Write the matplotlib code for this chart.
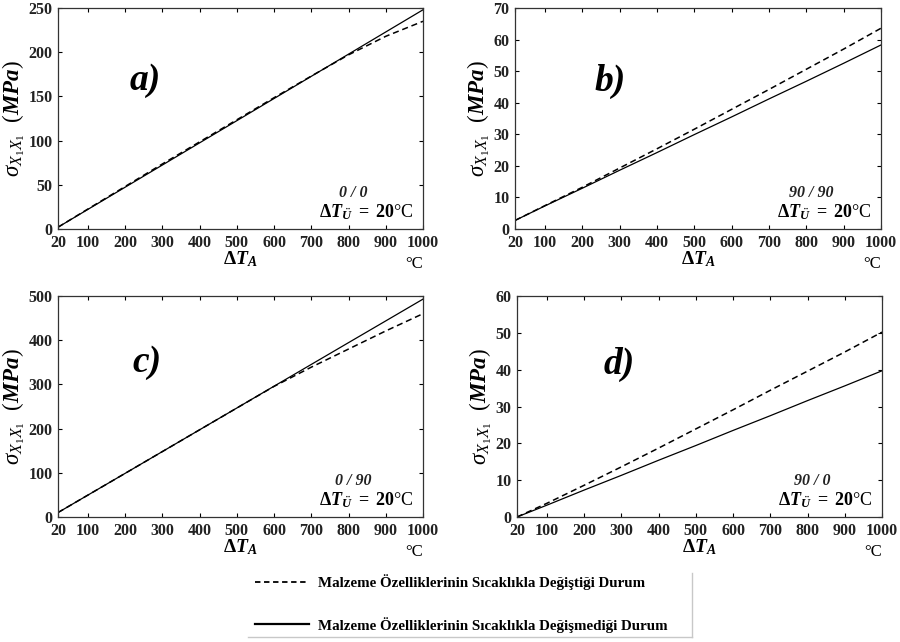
import numpy as np
import matplotlib
matplotlib.use('Agg')
import matplotlib.pyplot as plt
from matplotlib.lines import Line2D

# fonts : Times-like serif, mathtext mapped onto Liberation Serif
plt.rcParams['font.family'] = 'Liberation Serif'
plt.rcParams['mathtext.fontset'] = 'custom'
plt.rcParams['mathtext.rm'] = 'Liberation Serif'
plt.rcParams['mathtext.it'] = 'Liberation Serif:italic'
plt.rcParams['mathtext.bf'] = 'Liberation Serif:bold:italic'
plt.rcParams['mathtext.sf'] = 'Liberation Serif:bold'
plt.rcParams['axes.unicode_minus'] = False

# data
dT = [20, 100, 200, 300, 400, 500, 600, 700, 800, 900, 1000]

a_dash = [2, 22.5, 48, 73.5, 98.5, 123.5, 148.5, 173, 197, 218, 235]
a_solid = [2, 22.1, 47.2, 72.3, 97.4, 122.5, 147.6, 172.7, 197.8, 222.9, 248]

b_dash = [2.7, 7.4, 13.2, 19.3, 25.4, 31.6, 37.9, 44.2, 50.6, 57.0, 63.6]
b_solid = [2.7, 7.3, 12.9, 18.6, 24.2, 29.9, 35.5, 41.2, 46.8, 52.5, 58.3]

c_dash = [10, 49.4, 98.6, 147.9, 197.2, 246.5, 295.5, 339, 380, 421, 460]
c_solid = [10, 49.4, 98.6, 147.9, 197.2, 246.5, 295.9, 345.2, 394.5, 443.7, 493]

d_dash = [0, 3.7, 8.6, 13.6, 18.7, 23.9, 29.1, 34.4, 39.6, 44.8, 50.2]
d_solid = [0, 3.2, 7.3, 11.3, 15.4, 19.4, 23.5, 27.5, 31.6, 35.6, 39.7]

panels = ['a)', 'b)', 'c)', 'd)']
layups = ['0 / 0', '90 / 90', '0 / 90', '90 / 0']
ymax = [250, 70, 500, 60]
ystep = [50, 10, 100, 10]
xticks = [20, 100, 200, 300, 400, 500, 600, 700, 800, 900, 1000]

dash_list = [a_dash, b_dash, c_dash, d_dash]
solid_list = [a_solid, b_solid, c_solid, d_solid]

label_dash = 'Malzeme Özelliklerinin Sıcaklıkla Değiştiği Durum'
label_solid = 'Malzeme Özelliklerinin Sıcaklıkla Değişmediği Durum'

fig = plt.figure(figsize=(9, 6.42), dpi=100)

# axes positions [left, bottom, width, height]
pos = [[0.0644, 0.6433, 0.4056, 0.3442],
       [0.5722, 0.6433, 0.4067, 0.3442],
       [0.0644, 0.1947, 0.4056, 0.3442],
       [0.5744, 0.1947, 0.4056, 0.3442]]
lab_xy = [(0.24, 0.67), (0.26, 0.67), (0.245, 0.70), (0.28, 0.69)]

for i in range(4):
    ax = fig.add_axes(pos[i])
    ax.plot(dT, dash_list[i], color='black', lw=1.1, ls=(0, (4, 2.5)))
    ax.plot(dT, solid_list[i], color='black', lw=0.9)
    ax.set_xlim(20, 1000)
    ax.set_ylim(0, ymax[i])
    ax.set_xticks(xticks)
    ax.set_yticks(np.arange(0, ymax[i] + 1, ystep[i]))
    ax.tick_params(direction='in', top=True, right=True, length=3,
                   labelsize=11.5)
    ax.tick_params(axis='x', pad=4)
    ax.tick_params(axis='y', pad=4)
    for t in ax.get_xticklabels() + ax.get_yticklabels():
        t.set_fontweight('bold')
        t.set_color('#222222')
    for s in ax.spines.values():
        s.set_linewidth(0.9)
        s.set_color('#333333')

    ax.set_ylabel(r'$\sigma_{X_1X_1}$  $(\mathbf{MPa})$', fontsize=16.5, labelpad=1)
    ax.set_xlabel(r'$\mathsf{\Delta}\mathbf{T_A}$', fontsize=14, labelpad=-1)
    ax.text(1.0, -0.12, '°C', transform=ax.transAxes, ha='right', va='top',
            fontsize=12)

    ax.text(lab_xy[i][0], lab_xy[i][1], panels[i], transform=ax.transAxes,
            ha='center', va='center', fontsize=27, fontweight='bold',
            fontstyle='italic')
    ax.text(0.81, 0.165, layups[i], transform=ax.transAxes, ha='center',
            va='center', fontsize=11.5, fontweight='bold', fontstyle='italic',
            color='#222222')
    ax.text(0.975, 0.075, r'$\mathsf{\Delta}\mathbf{T}_{\mathbf{Ü}}$ $\mathsf{=\ 20}$°C',
            transform=ax.transAxes, ha='right', va='center', fontsize=13)

# legend under the panels
handles = [Line2D([], [], color='black', lw=1.3, ls=(0, (3, 2))),
           Line2D([], [], color='black', lw=1.6)]
leg = fig.legend(handles, [label_dash, label_solid], loc='upper left',
                 frameon=False, handlelength=3.6, labelspacing=1.75,
                 handletextpad=0.6,
                 prop={'family': 'Liberation Serif', 'weight': 'bold', 'size': 10.8})
leg.set_bbox_to_anchor((0.268, 0.126), transform=fig.transFigure)

# faint frame edge (right and bottom only) around the legend
fig.add_artist(Line2D([0.769, 0.769], [0.108, 0.008], color='#c8c8c8', lw=1,
                      transform=fig.transFigure))
fig.add_artist(Line2D([0.276, 0.769], [0.008, 0.008], color='#c8c8c8', lw=1,
                      transform=fig.transFigure))

fig.savefig('out.png', dpi=100)
